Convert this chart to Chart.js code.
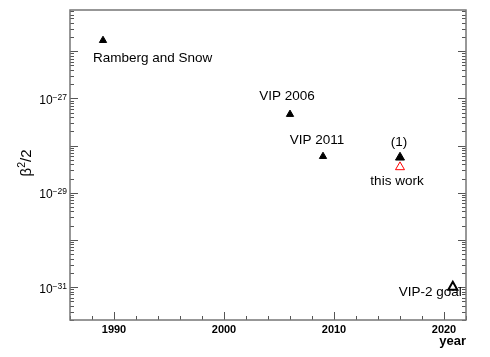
<!DOCTYPE html>
<html><head><meta charset="utf-8">
<script src="https://cdn.jsdelivr.net/npm/chart.js@4/dist/chart.umd.min.js"></script>
<style>html,body{margin:0;padding:0;background:#fff}canvas{display:block}</style>
</head><body>
<canvas id="c" width="490" height="357"></canvas>
<script>
// ---- data ----
const names  = ['Ramberg and Snow', 'VIP 2006', 'VIP 2011', '(1)', 'this work', 'VIP-2 goal'];
const years  = [1989, 2006, 2009, 2016, 2016, 2020.8];
const limits = [1.7e-26, 4.6e-28, 5.9e-29, 5.6e-29, 3.5e-29, 1.0e-31];
const xTickLabels = [1990, 2000, 2010, 2020];
const xMinorStep = 2;
const yTickExponents = [-27, -29, -31];
const xRange = [1986, 2022];
const yRange = [2e-32, 7.5e-26];

// ---- styles ----
const ptRadius = [4.2, 4.2, 4.2, 5.2, 5.2, 5.2];
const ptFill   = ['#000', '#000', '#000', '#000', 'rgba(0,0,0,0)', 'rgba(0,0,0,0)'];
const ptStroke = ['#000', '#000', '#000', '#000', '#ff0000', '#000'];
const ptBorder = [1, 1, 1, 1, 1, 2];
// label placement relative to the point pixel: [dx, dy, align]
const labelPlace = [[-10, 22, 'left'], [-3, -14, 'center'], [-6, -12, 'center'],
                    [-1, -11, 'center'], [-3, 17.5, 'center'], [9, 9, 'right']];
const FONT = '"Liberation Sans", Arial, Helvetica, sans-serif';
const AXIS = '#767676';
const TICK = '#555555';

const rootFrame = {
  id: 'rootFrame',
  afterDatasetsDraw(chart) {
    const ctx = chart.ctx, a = chart.chartArea;
    const xs = chart.scales.x, ys = chart.scales.y;
    ctx.save();
    // ticks
    ctx.strokeStyle = TICK; ctx.lineWidth = 1;
    ctx.beginPath();
    for (let v = Math.ceil(xRange[0] / xMinorStep) * xMinorStep; v <= xRange[1]; v += xMinorStep) {
      const px = Math.round(xs.getPixelForValue(v)) + 0.5;
      const len = (v % 10 === 0) ? 8 : 4;
      ctx.moveTo(px, a.bottom); ctx.lineTo(px, a.bottom - len);
    }
    const dMin = Math.floor(Math.log10(yRange[0])), dMax = Math.ceil(Math.log10(yRange[1]));
    for (let d = dMin; d <= dMax; d++) {
      for (let m = 1; m <= 9; m++) {
        const v = m * Math.pow(10, d);
        if (v < yRange[0] || v > yRange[1]) continue;
        const py = Math.round(ys.getPixelForValue(v)) + 0.5;
        const len = (m === 1) ? 8 : 4;
        ctx.moveTo(a.left, py); ctx.lineTo(a.left + len, py);
        ctx.moveTo(a.right, py); ctx.lineTo(a.right - len, py);
      }
    }
    ctx.stroke();
    // frame
    ctx.strokeStyle = AXIS; ctx.lineWidth = 1.5;
    ctx.strokeRect(a.left, a.top, a.right - a.left, a.bottom - a.top);
    // x tick labels
    ctx.fillStyle = '#000';
    ctx.font = 'bold 11px ' + FONT;
    ctx.textAlign = 'center'; ctx.textBaseline = 'alphabetic';
    xTickLabels.forEach(v => ctx.fillText(String(v), xs.getPixelForValue(v), a.bottom + 13));
    // x title
    ctx.font = 'bold 13px ' + FONT;
    ctx.textAlign = 'right';
    ctx.fillText('year', a.right, a.bottom + 25);
    // y tick labels 10^e
    yTickExponents.forEach(e => {
      const py = ys.getPixelForValue(Math.pow(10, e));
      ctx.font = '8.5px ' + FONT;
      const sup = '\u2212' + Math.abs(e);
      const wSup = ctx.measureText(sup).width;
      ctx.textAlign = 'right';
      const xr = a.left - 3;
      ctx.fillText(sup, xr, py + 1.5);
      ctx.font = '12px ' + FONT;
      ctx.fillText('10', xr - wSup, py + 5.5);
    });
    // y title  beta^2/2
    ctx.save();
    ctx.translate(31, 163);
    ctx.rotate(-Math.PI / 2);
    ctx.font = '15px ' + FONT;
    const wB = ctx.measureText('\u03b2').width;
    const wR = ctx.measureText('/2').width;
    ctx.font = '10.5px ' + FONT;
    const wS = ctx.measureText('2').width;
    let x0 = -(wB + wS + wR) / 2;
    ctx.textAlign = 'left';
    ctx.font = '15px ' + FONT;
    ctx.fillText('\u03b2', x0, 0);
    ctx.font = '10.5px ' + FONT;
    ctx.fillText('2', x0 + wB, -6);
    ctx.font = '15px ' + FONT;
    ctx.fillText('/2', x0 + wB + wS, 0);
    ctx.restore();
    // point labels
    ctx.font = '13.5px ' + FONT;
    names.forEach((n, i) => {
      const px = xs.getPixelForValue(years[i]), py = ys.getPixelForValue(limits[i]);
      const p = labelPlace[i];
      ctx.textAlign = p[2];
      ctx.fillText(n, px + p[0], py + p[1]);
    });
    ctx.restore();
  }
};

new Chart(document.getElementById('c'), {
  type: 'scatter',
  data: {
    datasets: [{
      data: years.map((y, i) => ({ x: y, y: limits[i] })),
      pointStyle: 'triangle',
      pointRadius: ptRadius,
      pointHoverRadius: ptRadius,
      backgroundColor: ptFill,
      borderColor: ptStroke,
      pointBorderWidth: ptBorder,
      borderWidth: ptBorder
    }]
  },
  options: {
    responsive: false,
    animation: false,
    events: [],
    layout: { padding: { left: 70, right: 24, top: 10, bottom: 37 } },
    plugins: { legend: { display: false }, tooltip: { enabled: false }, title: { display: false } },
    scales: {
      x: { type: 'linear', min: xRange[0], max: xRange[1], display: false },
      y: { type: 'logarithmic', min: yRange[0], max: yRange[1], display: false }
    }
  },
  plugins: [rootFrame]
});
</script>
</body></html>
